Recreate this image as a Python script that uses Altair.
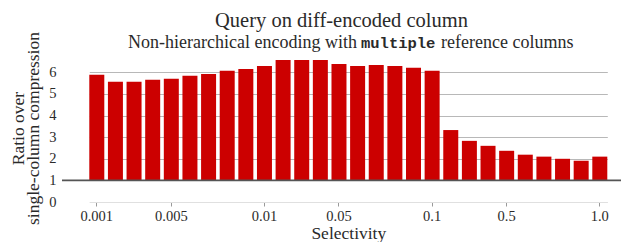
import altair as alt
import pandas as pd

selectivity = ["0.001", "0.002", "0.003", "0.004", "0.005", "0.006", "0.007", "0.008", "0.009",
               "0.01", "0.02", "0.03", "0.04", "0.05", "0.06", "0.07", "0.08", "0.09",
               "0.1", "0.2", "0.3", "0.4", "0.5", "0.6", "0.7", "0.8", "0.9", "1.0"]
ratio = [5.89, 5.57, 5.57, 5.66, 5.70, 5.84, 5.93, 6.07, 6.16,
         6.30, 6.57, 6.57, 6.57, 6.39, 6.30, 6.34, 6.30, 6.21,
         6.07, 3.33, 2.83, 2.60, 2.37, 2.19, 2.10, 2.00, 1.91, 2.10]
tick_labels = ["0.001", "0.005", "0.01", "0.05", "0.1", "0.5", "1.0"]
y_ticks = [0, 1, 2, 3, 4, 5, 6]
baseline = [1]

title_text = "Query on diff-encoded column"
sub_left = "Non-hierarchical encoding with"
sub_code = "multiple"
sub_right = "reference columns"
y_title = ["Ratio over", "single-column compression"]
x_title = "Selectivity"

SERIF = "Liberation Serif"
MONO = "Liberation Mono"
TXT = "#2a2a2a"

df = pd.DataFrame({"sel": selectivity, "ratio": ratio})
df_base = pd.DataFrame({"ratio": baseline})

x_enc = alt.X(
    "sel:N", sort=None, title=x_title,
    scale=alt.Scale(paddingInner=0.195, paddingOuter=0, range=[27.3, 545.3]),
    axis=alt.Axis(values=tick_labels, labelAngle=0, labelFont=SERIF, labelFontSize=14.5,
                  labelColor=TXT, tickColor="#999999", tickSize=4, labelPadding=3,
                  domainColor="#e0e0e0", titleFont=SERIF, titleFontSize=17.5,
                  titleFontWeight="normal", titleColor=TXT, titlePadding=1.5),
)
y_enc = alt.Y(
    "ratio:Q", scale=alt.Scale(domain=[0, 6.85], nice=False),
    axis=alt.Axis(values=y_ticks, grid=True, ticks=False, domain=False, labelOverlap=False,
                  gridColor=alt.condition("datum.value === 0", alt.value("#e2e2e2"), alt.value("#b8b8b8")),
                  labelFont=SERIF, labelFontSize=14.5, labelColor=TXT, labelPadding=6,
                  title=y_title, titleFont=SERIF, titleFontSize=17.5, titleFontWeight="normal",
                  titleColor=TXT, titlePadding=6, titleLineHeight=15),
)

bars = alt.Chart(df).mark_bar(color="#cc0000").encode(x=x_enc, y=y_enc, y2=alt.datum(1))

rule = alt.Chart(df_base).mark_rule(color="#555555", strokeWidth=1.8).encode(y=y_enc)


def txt(s, x, y, font, size, align, weight="normal"):
    return alt.Chart(pd.DataFrame({"t": [s]})).mark_text(
        font=font, fontSize=size, align=align, baseline="alphabetic", color=TXT,
        fontWeight=weight).encode(text="t:N", x=alt.value(x), y=alt.value(y))


t_title = txt(title_text, 279.5, -27.5, SERIF, 20.5, "center")
t_s1 = txt(sub_left, 295, -6.5, SERIF, 18, "right")
t_s2 = txt(sub_code, 299, -6.5, MONO, 15.5, "left", "bold")
t_s3 = txt(sub_right, 379, -6.5, SERIF, 18, "left")

chart = alt.layer(bars, rule, t_title, t_s1, t_s2, t_s3).properties(
    width=559, height=148,
    autosize=alt.AutoSizeParams(type="none"),
    padding={"left": 54, "top": 46, "right": 0, "bottom": 40},
).configure_view(stroke=None)

chart.save("out.html", embed_options={"renderer": "svg", "actions": False})
